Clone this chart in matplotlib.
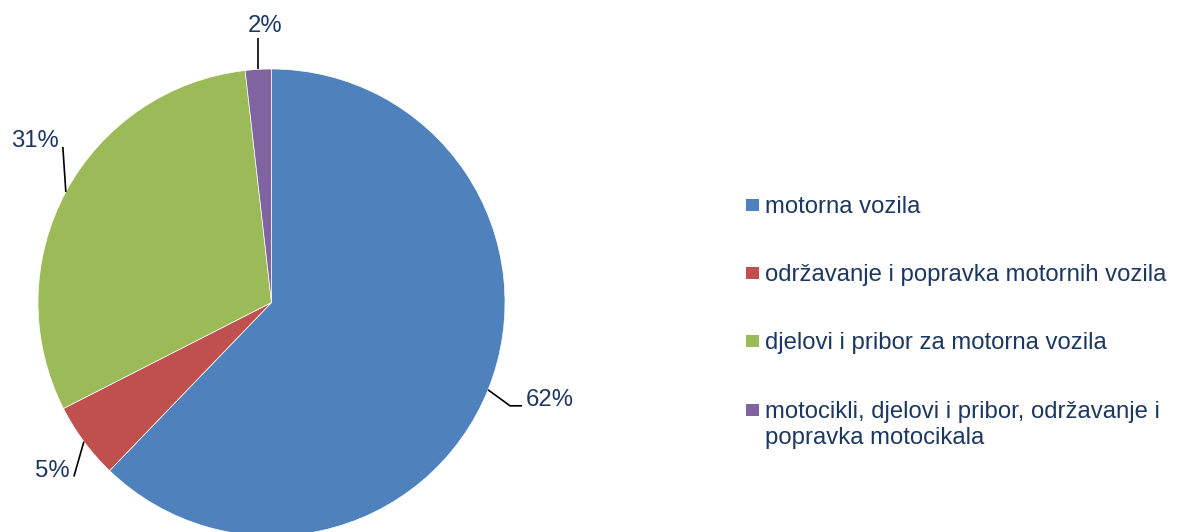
"""
Pie chart: structure of motor vehicle trade (share by category).
"""

import matplotlib

matplotlib.use("Agg")
import matplotlib.pyplot as plt
import numpy as np
from matplotlib.patches import Rectangle

# data
categories = [
    "motorna vozila",
    "održavanje i popravka motornih vozila",
    "djelovi i pribor za motorna vozila",
    "motocikli, djelovi i pribor, održavanje i\npopravka motocikala",
]
shares = [62.2, 5.3, 30.7, 1.8]
colors = ["#4F81BD", "#C0504D", "#9BBB59", "#8064A2"]

TEXT_COLOR = "#1C3760"
FONT = "Liberation Sans"
W, H = 1178, 532

# leader line layout per slice (pixel offsets from the slice edge point, y up)
LEADERS = [
    {"path": [(22, -16), (34, -16)], "text": (4, 0), "ha": "left"},
    {"path": [(-10, -35)], "text": (-4, 0), "ha": "right"},
    {"path": [(-3, 45)], "text": (-4, 0), "ha": "right"},
    {"path": [(0, 31)], "text": (7, 6), "ha": "center"},
]

fig = plt.figure(figsize=(W / 100, H / 100), dpi=100)
ax = fig.add_axes([0, 0, 1, 1])

center = (271.5, H - 302.5)
radius = 233.5
wedges, _ = ax.pie(
    shares,
    colors=colors,
    startangle=90,
    counterclock=False,
    center=center,
    radius=radius,
    wedgeprops={"edgecolor": "white", "linewidth": 0.5},
)

for wedge, share, lay in zip(wedges, shares, LEADERS):
    mid = np.deg2rad(0.5 * (wedge.theta1 + wedge.theta2))
    ex = center[0] + radius * np.cos(mid)
    ey = center[1] + radius * np.sin(mid)
    xs = [ex] + [ex + dx for dx, _ in lay["path"]]
    ys = [ey] + [ey + dy for _, dy in lay["path"]]
    ax.plot(xs, ys, color="black", lw=1.2, solid_capstyle="butt")
    ax.text(
        xs[-1] + lay["text"][0],
        ys[-1] + lay["text"][1],
        f"{round(share)}%",
        ha=lay["ha"],
        va="baseline",
        fontsize=17.2,
        family=FONT,
        color=TEXT_COLOR,
    )

# legend, drawn by hand so the square sits on the first line
legend_baselines = [213, 281, 349, 418]
for label, color, base in zip(categories, colors, legend_baselines):
    ax.add_patch(
        Rectangle((746, H - base + 2), 13, 12, facecolor=color, edgecolor="none")
    )
    for i, line in enumerate(label.split("\n")):
        ax.text(
            765,
            H - base - 26 * i,
            line,
            ha="left",
            va="baseline",
            fontsize=17.2,
            family=FONT,
            color=TEXT_COLOR,
        )

ax.set_xlim(0, W)
ax.set_ylim(0, H)
ax.set_aspect("equal")
ax.axis("off")

fig.savefig("out.png", dpi=100)
